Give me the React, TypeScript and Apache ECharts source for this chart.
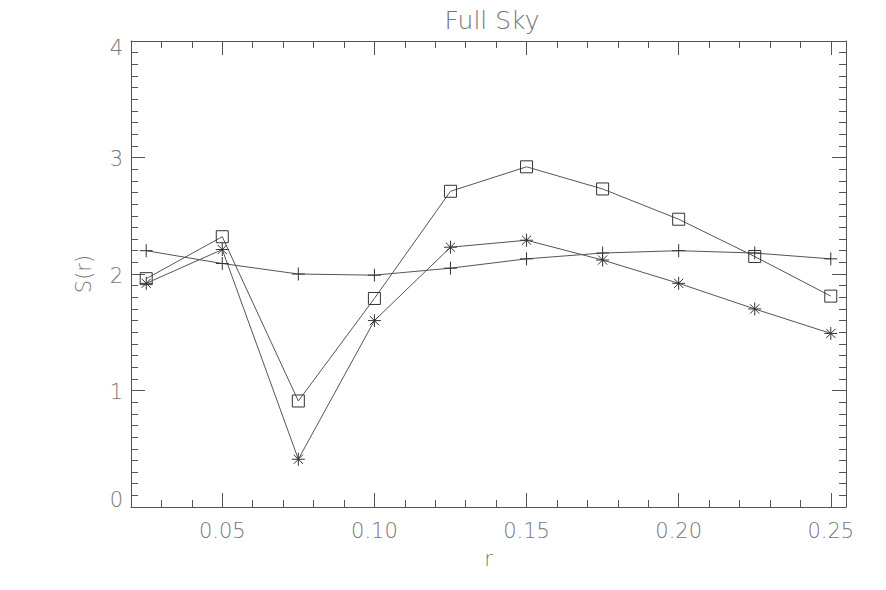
import React, { useEffect, useRef } from "react";
import * as echarts from "echarts";

const rValues = [0.025, 0.05, 0.075, 0.1, 0.125, 0.15, 0.175, 0.2, 0.225, 0.25];
const plusSeries = [2.2, 2.09, 2.0, 1.99, 2.05, 2.13, 2.18, 2.2, 2.18, 2.13];
const squareSeries = [1.96, 2.32, 0.91, 1.79, 2.71, 2.92, 2.73, 2.47, 2.15, 1.81];
const starSeries = [1.92, 2.21, 0.41, 1.6, 2.23, 2.29, 2.12, 1.92, 1.7, 1.49];
const xMajorTicks = [0.05, 0.1, 0.15, 0.2, 0.25];
const titleText = "Full Sky";
const xName = "r";
const yName = "S(r)";

const FONT = "DejaVu Sans";
const TXT = "#777";
const AX = "#555";
const LINE = "#555";
const SYM = "#333";

const PLUS = "path://M0,-1L0,1M-1,0L1,0";
const STAR = "path://M0,-1L0,1M-1,0L1,0M-0.707,-0.707L0.707,0.707M-0.707,0.707L0.707,-0.707";

export default function App() {
  const ref = useRef<HTMLDivElement>(null);
  useEffect(() => {
    if (!ref.current) return;
    const chart = echarts.init(ref.current, undefined, { renderer: "svg" });
    const txtStyle = { color: TXT, fontFamily: FONT, fontWeight: 200, fontSize: 21 };
    const xBase = (gridIndex: number, position: string, extra: any) => ({
      type: "value",
      gridIndex,
      position,
      min: 0.02,
      max: 0.255,
      splitLine: { show: false },
      axisLine: { show: true, onZero: false, lineStyle: { color: AX, width: 1 } },
      ...extra,
    });
    const majorX = (position: string, labels: boolean) =>
      xBase(0, position, {
        axisTick: { show: true, inside: true, length: 14, customValues: xMajorTicks, lineStyle: { color: AX } },
        axisLabel: labels
          ? {
              show: true,
              customValues: xMajorTicks,
              formatter: (v: number) => v.toFixed(2),
              ...txtStyle,
              margin: 13,
            }
          : { show: false },
        name: labels ? xName : "",
        nameLocation: "middle",
        nameGap: 41,
        nameTextStyle: txtStyle,
      });
    const minorX = (position: string) =>
      xBase(1, position, {
        interval: 0.01,
        axisLine: { show: false, onZero: false },
        axisTick: { show: true, inside: true, length: 7, lineStyle: { color: AX } },
        axisLabel: { show: false },
      });
    const yAx = (position: string, labels: boolean) => ({
      type: "value",
      gridIndex: 0,
      position,
      min: 0,
      max: 4,
      interval: 1,
      splitLine: { show: false },
      axisLine: { show: true, onZero: false, lineStyle: { color: AX, width: 1 } },
      axisTick: { show: true, inside: true, length: 14, lineStyle: { color: AX } },
      minorTick: { show: true, splitNumber: 10, length: 7, lineStyle: { color: AX } },
      axisLabel: labels
        ? {
            show: true,
            ...txtStyle,
            margin: 8,
            formatter: (v: number) => (v === 0 ? "{lo|0}" : v === 4 ? "{hi|4}" : "{mid|" + v + "}"),
            rich: {
              lo: { ...txtStyle, padding: [0, 0, 14, 0] },
              hi: { ...txtStyle, padding: [14, 0, 0, 0] },
              mid: { ...txtStyle, padding: [3, 0, 0, 0] },
            },
          }
        : { show: false },
      name: labels ? yName : "",
      nameLocation: "middle",
      nameGap: 37,
      nameRotate: 90,
      nameTextStyle: txtStyle,
    });
    const hiddenY = {
      type: "value",
      gridIndex: 1,
      min: 0,
      max: 4,
      show: false,
    };
    const mk = (vals: number[], symbol: string, size: number, z: number) => ({
      type: "line",
      xAxisIndex: 0,
      yAxisIndex: 0,
      data: rValues.map((r, i) => [r, vals[i]]),
      symbol,
      symbolSize: size,
      showSymbol: true,
      lineStyle: { color: LINE, width: 1 },
      itemStyle: { color: "rgba(0,0,0,0)", borderColor: SYM, borderWidth: 1 },
      emphasis: { disabled: true },
      z,
    });
    const gridRect = { left: 131, right: 40, top: 41, bottom: 83, containLabel: false };
    chart.setOption({
      animation: false,
      backgroundColor: "#fff",
      title: {
        text: titleText,
        left: 487,
        top: 3,
        textAlign: "center",
        textStyle: { ...txtStyle, fontSize: 25 },
      },
      grid: [gridRect, { ...gridRect }],
      xAxis: [majorX("bottom", true), majorX("top", false), minorX("bottom"), minorX("top")],
      yAxis: [yAx("left", true), yAx("right", false), hiddenY],
      series: [
        mk(plusSeries, PLUS, 13, 3),
        mk(squareSeries, "rect", 12, 2),
        mk(starSeries, STAR, 13, 3),
      ],
    });
    return () => chart.dispose();
  }, []);
  return <div ref={ref} style={{ width: 886, height: 590, position: "absolute", left: 0, top: 0 }} />;
}
